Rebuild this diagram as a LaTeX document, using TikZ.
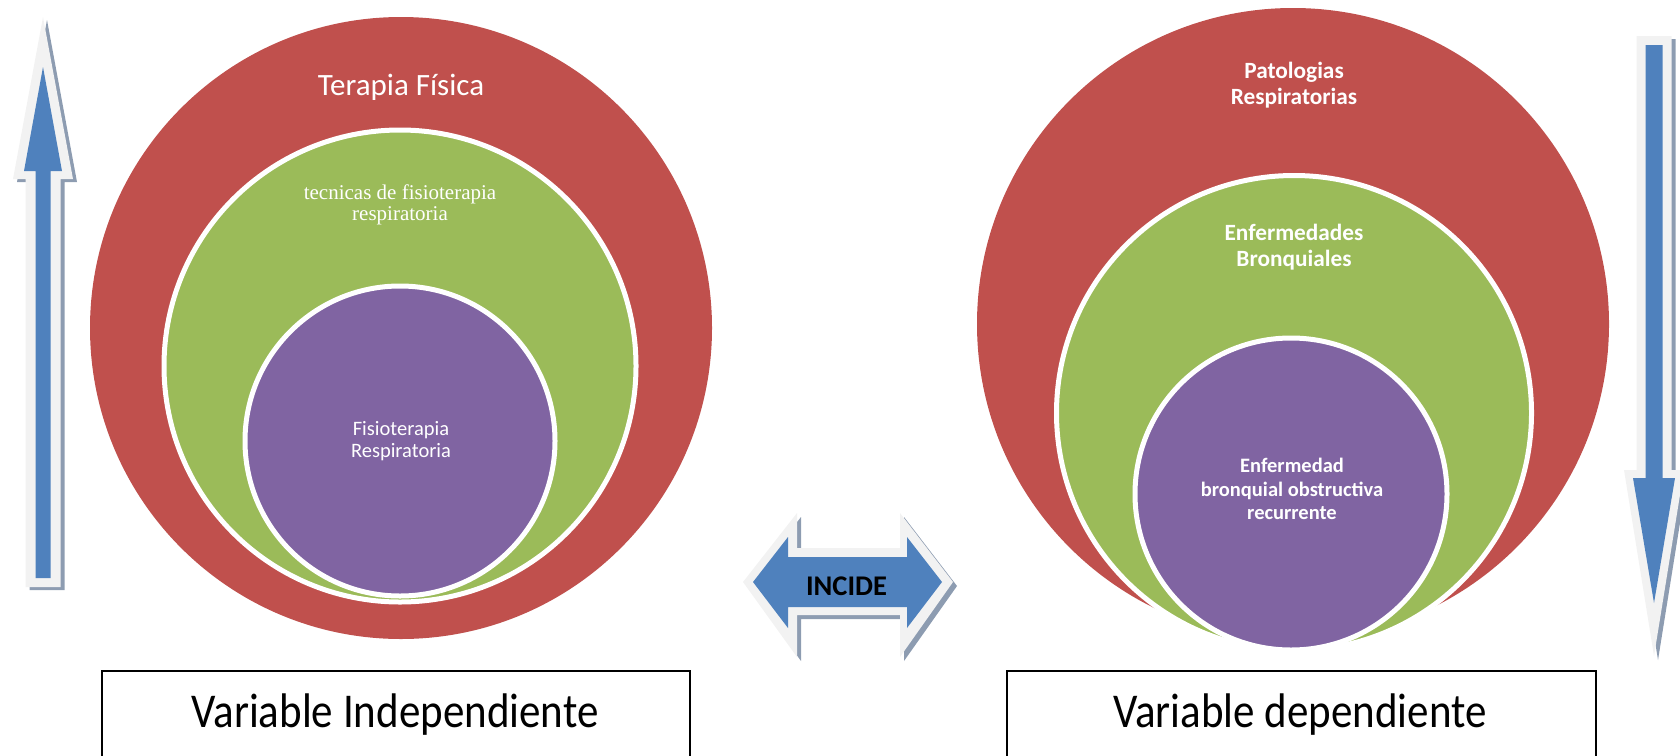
\documentclass[tikz,border=0pt]{standalone}
\usepackage{fontspec}
\usepackage{graphicx}
\setmainfont{Carlito}
\newfontfamily\timesf{Liberation Serif}
\definecolor{ored}{HTML}{C0504D}
\definecolor{ogreen}{HTML}{9BBB59}
\definecolor{opurple}{HTML}{8064A2}
\definecolor{oblue}{HTML}{4F81BD}
\definecolor{ogray}{HTML}{F2F2F2}
\definecolor{oshadow}{HTML}{8D9CB1}
\tikzset{
  circ/.style={circle, inner sep=0pt, outer sep=0pt},
  ring/.style={circ, draw=white, line width=5pt},
  lbl/.style={text=white, align=center, inner sep=0pt},
  boxv/.style={draw=black, line width=1.5pt, anchor=north west, inner sep=0pt, minimum height=110pt},
  varlbl/.style={anchor=base, inner sep=0pt, font=\fontsize{43}{50}\selectfont},
}
\begin{document}
\begin{tikzpicture}[x=1pt,y=-1pt]
\useasboundingbox (0,0) rectangle (1680,755);
% left circles
\node[circ, fill=ored, minimum size=622pt] (redL) at (401,328) {};
\node[ring, fill=ogreen, minimum size=472pt] (greenL) at (400,366) {};
\node[ring, fill=opurple, minimum size=310pt] (purpleL) at (400,441) {};
\node[lbl, anchor=base, font=\fontsize{31}{37}\selectfont] (tf) at (401,95) {Terapia Física};
\node[lbl, font=\timesf\fontsize{21}{21}\selectfont] (tec) at (400,205) {tecnicas de fisioterapia\\respiratoria};
\node[lbl, font=\fontsize{20.5}{22}\selectfont] (fr) at (401,441.5) {Fisioterapia\\Respiratoria};
% right circles
\node[circ, fill=ored, minimum size=632pt] (redR) at (1293,324) {};
\node[ring, fill=ogreen, minimum size=475pt] (greenR) at (1294,413) {};
\node[ring, fill=opurple, minimum size=312pt] (purpleR) at (1291,494) {};
\node[lbl, font=\bfseries\fontsize{23.3}{26}\selectfont] (pr) at (1294,85.5) {Patologias\\Respiratorias};
\node[lbl, font=\bfseries\fontsize{23.3}{26.5}\selectfont] (eb) at (1294,247) {Enfermedades\\Bronquiales};
\node[lbl, font=\bfseries\fontsize{20.5}{23.5}\selectfont] (ebo) at (1292,489) {Enfermedad\\bronquial obstructiva\\recurrente};
% up arrow (left)
\fill[oshadow] (47,20) -- (77,182) -- (64.5,182) -- (64.5,590) -- (29.5,590) -- (29.5,182) -- (17,182) -- cycle;
\fill[ogray] (43,17) -- (73,179) -- (60.5,179) -- (60.5,587) -- (25.5,587) -- (25.5,179) -- (13,179) -- cycle;
\fill[oblue] (43,67) -- (62,171) -- (50.5,171) -- (50.5,578) -- (35.5,578) -- (35.5,171) -- (24,171) -- cycle;
% down arrow (right)
\fill[oshadow] (1640.5,39) -- (1675.5,39) -- (1675.5,473) -- (1688,473) -- (1658,660) -- (1628,473) -- (1640.5,473) -- cycle;
\fill[ogray] (1636.5,36) -- (1671.5,36) -- (1671.5,470) -- (1684,470) -- (1654,656) -- (1624,470) -- (1636.5,470) -- cycle;
\fill[oblue] (1645.5,45) -- (1662.5,45) -- (1662.5,478) -- (1675,478) -- (1654,603) -- (1633,478) -- (1645.5,478) -- cycle;
% double arrow
\fill[oshadow] (747,586) -- (801,517) -- (801,552) -- (904,552) -- (904,517) -- (957,586) -- (904,661) -- (904,619) -- (801,619) -- (801,661) -- cycle;
\fill[ogray] (743,582) -- (797,513) -- (797,548) -- (900,548) -- (900,513) -- (953,582) -- (900,657) -- (900,615) -- (797,615) -- (797,657) -- cycle;
\fill[oblue] (753,582) -- (788,537) -- (788,557) -- (907,557) -- (907,537) -- (942,582) -- (907,628) -- (907,607) -- (788,607) -- (788,628) -- cycle;
\node[anchor=base, inner sep=0pt, font=\bfseries\fontsize{28.5}{30}\selectfont] (inc) at (846.5,595) {INCIDE};
% boxes
\node[boxv, minimum width=588pt] (boxL) at (101,670) {};
\node[boxv, minimum width=589pt] (boxR) at (1006,670) {};
\node[varlbl] (vi) at (395,727) {\scalebox{1}[1.13]{Variable Independiente}};
\node[varlbl] (vd) at (1300,727) {\scalebox{1}[1.13]{Variable dependiente}};
\end{tikzpicture}
\end{document}
